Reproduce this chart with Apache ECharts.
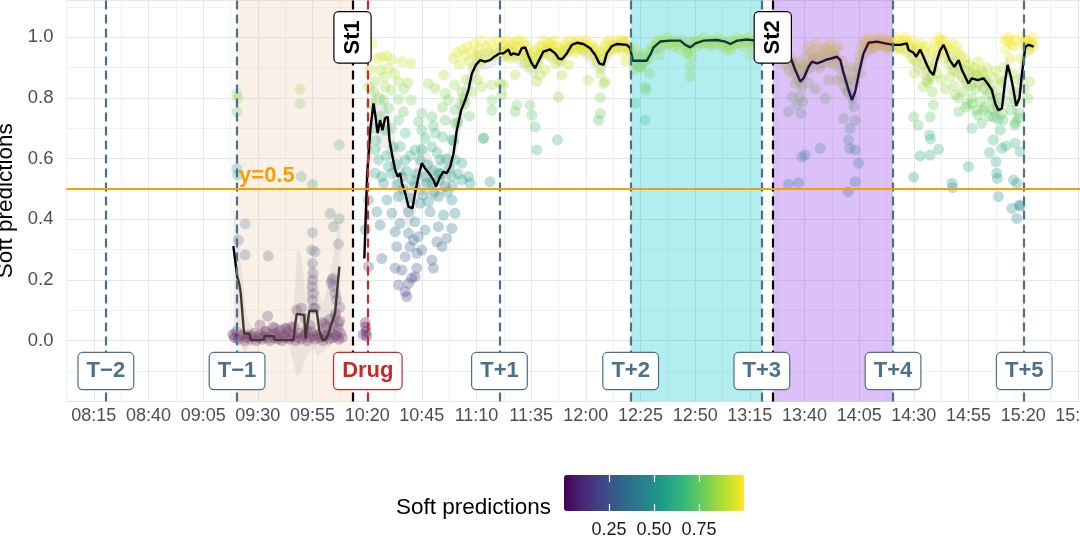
<!DOCTYPE html>
<html>
<head>
<meta charset="utf-8">
<script src="https://cdn.jsdelivr.net/npm/echarts@6/dist/echarts.min.js"></script>
<style>
html, body { margin: 0; padding: 0; background: #fff; }
#chart { width: 1080px; height: 540px; }
</style>
</head>
<body>
<div id="chart"></div>
<script>
// x values are minutes after 08:15
var startMin = 8 * 60 + 15;

var eventNames = ['T−2', 'T−1', 'T+1', 'T+2', 'T+3', 'T+4', 'T+5'];
var eventTimes = [5.5, 65.5, 185.5, 245.5, 305.5, 365.5, 425.5];
var drugName = 'Drug';
var drugTime = 125.3;
var stageNames = ['St1', 'St2'];
var stageTimes = [118.3, 310.5];
var threshold = 0.5;

// shaded periods: T-1..St1, T+2..T+3, St2..T+4
var shadeFrom = [65.5, 245.5, 310.5];
var shadeTo = [118.3, 305.5, 365.5];

var colorbarTicks = [0.25, 0.5, 0.75];

// soft predictions, [minute, value]
var ptsBaseline = [
  [65.4,0.815],[65.8,0.799],[65.4,0.755],[94.3,0.829],[94.3,0.782],[112.2,0.645],[65.4,0.568],[65.8,0.546],
  [94.8,0.541],[100.0,0.515],[69.2,0.385],[66.1,0.332],[69.2,0.283],[79.8,0.279],[108.1,0.420],[112.2,0.402],
  [109.6,0.376],[100.0,0.356],[111.9,0.319],[101.2,0.293],[100.0,0.255],[100.3,0.222],[100.1,0.200],[99.8,0.178],
  [100.2,0.156],[100.0,0.134],[100.4,0.107],[108.9,0.200],[109.6,0.178],[110.3,0.156],[76.0,0.052],[79.5,0.081],
  [92.8,0.101],[94.8,0.107],[101.2,0.107],[110.3,0.079],[111.9,0.057],[82.9,0.041],[87.5,0.041],[90.5,0.046],
  [96.6,0.074],[105.8,0.057],[99.7,0.299],[109.3,0.206],[108.5,0.19],[111.0,0.135],[112.5,0.11],
  [104.5,0.06],[106.2,0.045],[107.8,0.07],[109.5,0.05],[110.6,0.09],[111.8,0.04],[112.5,0.065],[98.9,0.05],
  [97.3,0.035],[91.7,0.045],[88.0,0.04],[85.3,0.035],[82.0,0.045],[78.3,0.03],
  [63.6,0.02],[64.4,0.01],[65.2,0.03],[66.1,0.005],[67.0,0.015],[67.9,0.02],[68.8,0.0],[69.7,0.01],
  [70.6,0.02],[71.5,0.005],[72.4,0.015],[73.3,0.025],[74.2,0.0],[75.1,0.01],[76.0,0.02],[76.9,0.005],
  [77.8,0.015],[78.7,0.03],[79.6,0.01],[80.5,0.0],[81.4,0.02],[82.3,0.01],[83.2,0.025],[84.1,0.005],
  [85.0,0.015],[85.9,0.0],[86.8,0.02],[87.7,0.01],[88.6,0.03],[89.5,0.005],[90.4,0.015],[91.3,0.02],
  [92.2,0.0],[93.1,0.01],[94.0,0.025],[94.9,0.005],[95.8,0.015],[96.7,0.02],[97.6,0.0],[98.5,0.01],
  [99.4,0.03],[100.3,0.015],[101.2,0.005],[102.1,0.02],[103.0,0.01],[103.9,0.025],[104.8,0.0],[105.7,0.015],
  [106.6,0.02],[107.5,0.005],[108.4,0.03],[109.3,0.01],[110.2,0.02],[111.1,0.015],[112.0,0.005],[112.9,0.025],
  [113.6,0.01]
];

var ptsDrug = [
  [123.2,0.02],[124.1,0.06],[124.5,0.03],[124.8,0.015],[124.3,0.045],
  [127.1,0.98],[129.4,0.931],[131.7,0.936],[134.0,0.938],[136.3,0.927],[140.9,0.92],[145.1,0.914],[126.4,0.892],
  [130.9,0.892],[134.7,0.898],[128.6,0.854],[139.3,0.854],[143.6,0.85],[125.6,0.837],[133.2,0.837],[135.9,0.826],
  [159.9,0.876],[153.0,0.848],[156.1,0.832],[160.7,0.815],[165.2,0.843],[168.3,0.821],[132.5,0.793],[139.3,0.796],
  [145.1,0.793],[162.2,0.793],[169.1,0.799],[134.7,0.766],[141.6,0.755],[150.0,0.749],[154.6,0.738],[159.5,0.769],
  [165.2,0.76],[169.8,0.782],[172.9,0.821],[177.4,0.837],[182.0,0.793],[182.0,0.76],[139.3,0.727],[148.4,0.722],
  [155.3,0.708],[160.7,0.727],[165.2,0.717],[133.2,0.694],[142.4,0.684],[150.0,0.694],[151.5,0.667],[156.1,0.684],
  [159.5,0.672],[163.7,0.662],[178.2,0.667],[128.6,0.629],[137.0,0.639],[146.9,0.629],[154.6,0.639],[130.2,0.596],
  [134.7,0.574],[142.4,0.596],[149.2,0.596],[158.4,0.596],[165.2,0.596],[168.3,0.585],
  [128.6,0.552],[131.7,0.541],[136.3,0.552],[140.9,0.541],[145.4,0.53],[151.5,0.541],[157.6,0.552],[163.7,0.541],
  [168.3,0.53],[171.3,0.541],[172.1,0.519],[181.2,0.524],[132.5,0.519],[138.5,0.513],[154.6,0.519],[160.7,0.508],
  [125.6,0.464],[134.0,0.464],[139.3,0.475],[149.2,0.453],[153.0,0.458],[157.6,0.475],[163.7,0.464],[129.4,0.425],
  [136.3,0.42],[143.9,0.425],[153.8,0.425],[159.9,0.414],[165.2,0.42],[130.9,0.381],[140.1,0.387],[146.9,0.392],
  [151.5,0.365],[157.6,0.376],[163.7,0.37],[137.8,0.359],[143.9,0.354],[146.1,0.332],[148.4,0.343],[138.5,0.31],
  [144.6,0.31],[150.0,0.299],[156.9,0.326],[159.2,0.31],[161.4,0.337],[131.7,0.271],[142.4,0.277],[147.7,0.288],
  [154.6,0.266],[140.9,0.233],[137.8,0.239],[147.7,0.239],[155.3,0.239],[145.4,0.206],[146.9,0.211],[139.3,0.184],
  [143.9,0.189],[142.4,0.162],[143.1,0.145],[125.6,0.244],[124.1,0.365],
  [127.5,0.70],[129.0,0.66],[131.0,0.74],[133.8,0.61],[136.0,0.70],[138.2,0.58],[140.2,0.64],[143.0,0.56],
  [144.8,0.61],[147.5,0.55],[149.8,0.63],[152.6,0.58],[155.0,0.56],[157.0,0.62],[159.0,0.55],[161.0,0.60],
  [162.8,0.57],[164.5,0.66],[166.5,0.72],[167.5,0.78],[170.2,0.86],[171.8,0.74],[173.5,0.90],[175.5,0.86],
  [176.5,0.92],[126.8,0.78],[128.2,0.82],[130.5,0.80],[132.8,0.87],[137.5,0.88],[141.8,0.83],
  [141.5,0.50],[144.5,0.47],[147.0,0.51],[150.5,0.48],[152.5,0.52],[155.5,0.49],[158.0,0.53],[161.8,0.49],
  [164.2,0.51],[166.6,0.55],
  [164.5,0.93],[166.0,0.95],[167.2,0.91],[168.4,0.96],[169.5,0.94],[170.6,0.97],[171.7,0.92],[172.8,0.95],
  [173.9,0.98],[175.0,0.94],[176.1,0.96],[177.2,0.99],[178.3,0.93],[179.4,0.97],[180.5,0.95],[181.6,0.98],
  [182.7,0.94],[183.8,0.96],[184.9,0.99],[186.0,0.95]
];

var ptsMidday = [
  [182.0,0.843],[186.6,0.81],[187.3,0.843],[192.7,0.876],[192.7,0.755],[193.5,0.777],[197.3,0.914],[199.5,0.777],
  [200.3,0.744],[201.8,0.705],[202.6,0.629],[202.6,0.854],[204.1,0.876],[206.4,0.892],[211.0,0.914],[212.5,0.804],
  [212.0,0.662],[214.0,0.876],[217.1,0.909],[226.2,0.859],[231.6,0.881],[233.1,0.848],[231.6,0.801],[231.6,0.749],
  [230.8,0.727],[233.9,0.854],[243.4,0.92],[178.2,0.667],[185.8,0.848],
  [186.9,0.97],[187.8,0.95],[188.7,0.99],[189.6,0.96],[190.5,0.93],[191.4,0.98],[192.3,0.95],[193.2,0.97],
  [194.1,0.94],[195.0,0.99],[195.9,0.96],[196.8,0.98],[197.7,0.95],[198.6,0.92],[199.5,0.94],[200.4,0.90],
  [201.3,0.93],[202.2,0.96],[203.1,0.91],[204.0,0.97],[204.9,0.95],[205.8,0.99],[206.7,0.96],[207.6,0.98],
  [208.5,0.94],[209.4,0.97],[210.3,0.99],[211.2,0.95],[212.1,0.93],[213.0,0.96],[213.9,0.92],[214.8,0.95],
  [215.7,0.98],[216.6,0.96],[217.5,0.99],[218.4,0.97],[219.3,0.98],[220.2,0.95],[221.1,0.99],[222.0,0.97],
  [222.9,0.98],[223.8,0.96],[224.7,0.99],[225.6,0.97],[226.5,0.95],[227.4,0.98],[228.3,0.96],[229.2,0.94],
  [230.1,0.92],[231.0,0.95],[231.9,0.91],[232.8,0.93],[233.7,0.97],[234.6,0.95],[235.5,0.99],[236.4,0.97],
  [237.3,0.98],[238.2,0.96],[239.1,0.99],[240.0,0.97],[240.9,0.98],[241.8,0.95],[242.7,0.99],[243.6,0.97],
  [244.5,0.96],
  [187.3,0.98],[189.1,0.94],[191.0,0.97],[193.7,0.99],[196.2,0.94],[198.0,0.97],[200.9,0.95],[203.6,0.94],
  [205.3,0.97],[207.1,0.95],[209.0,0.98],[211.7,0.97],[213.5,0.94],[215.2,0.97],[217.0,0.95],[219.8,0.97],
  [221.6,0.96],[223.3,0.98],[225.1,0.96],[227.9,0.97],[229.7,0.96],[232.3,0.95],[234.1,0.98],[236.9,0.96],
  [238.7,0.97],[241.3,0.99],[243.1,0.98],[245.0,0.97]
];

var ptsAfternoon = [
  [246.8,0.892],[247.6,0.782],[252.1,0.837],[252.6,0.826],[252.1,0.727],[254.2,0.881],[258.8,0.942],[271.8,0.947],
  [272.6,0.903],[273.4,0.936],[272.6,0.87],[265.7,0.973],[291.1,0.958],[300.2,0.942],[249.9,0.903],
  [246.0,0.95],[247.0,0.92],[248.0,0.96],[249.0,0.93],[250.0,0.90],[251.0,0.94],[252.0,0.92],[253.0,0.95],
  [254.0,0.93],[255.0,0.97],[256.0,0.96],[257.0,0.98],[258.0,0.99],[259.0,0.97],[260.0,0.99],[261.0,0.98],
  [262.0,1.0],[263.0,0.98],[264.0,0.99],[265.0,0.97],[266.0,0.99],[267.0,0.98],[268.0,0.96],[269.0,0.99],
  [270.0,0.97],[271.0,0.95],[272.0,0.97],[273.0,0.96],[274.0,0.98],[275.0,0.99],[276.0,0.97],[277.0,0.99],
  [278.0,0.98],[279.0,1.0],[280.0,0.98],[281.0,0.99],[282.0,0.97],[283.0,0.99],[284.0,0.98],[285.0,1.0],
  [286.0,0.98],[287.0,0.99],[288.0,0.97],[289.0,0.96],[290.0,0.98],[291.0,0.97],[292.0,0.99],[293.0,0.98],
  [294.0,1.0],[295.0,0.98],[296.0,0.99],[297.0,0.97],[298.0,0.99],[299.0,1.0],[300.0,0.98],[301.0,0.97],
  [302.0,0.99],[303.0,0.98],[304.0,0.99],[305.0,0.97],[306.0,0.98],[307.0,0.99],[308.0,0.97],[309.0,0.99],
  [310.0,0.96]
];

var ptsStage2 = [
  [320.8,0.848],[323.8,0.837],[319.6,0.804],[322.7,0.804],[324.2,0.788],[317.7,0.755],[321.5,0.777],[323.4,0.749],
  [334.5,0.799],[332.2,0.634],[323.8,0.606],[325.3,0.612],[317.7,0.516],[322.3,0.521],[339.9,0.859],[344.4,0.821],
  [342.9,0.733],[347.5,0.771],[348.2,0.727],[345.9,0.7],[345.2,0.662],[345.7,0.634],[348.2,0.629],[349.7,0.585],
  [348.2,0.524],[345.0,0.491],[350.6,0.881],[327.0,0.85],[330.0,0.83],[336.0,0.86],
  [311.0,0.97],[312.0,0.95],[313.0,0.98],[314.0,0.93],[315.0,0.96],[316.0,0.91],[317.0,0.94],[318.0,0.89],
  [319.0,0.92],[320.0,0.88],[321.0,0.90],[322.0,0.86],[323.0,0.89],[324.0,0.87],[325.0,0.91],[326.0,0.94],
  [327.0,0.90],[328.0,0.95],[329.0,0.92],[330.0,0.96],[331.0,0.93],[332.0,0.90],[333.0,0.95],[334.0,0.92],
  [335.0,0.97],[336.0,0.93],[337.0,0.95],[338.0,0.91],[339.0,0.96],[340.0,0.93],[341.0,0.90],[342.0,0.87],
  [343.0,0.84],[344.0,0.89],[345.0,0.82],[346.0,0.86],[347.0,0.80],[348.0,0.85],[349.0,0.90],[350.0,0.94],
  [351.0,0.97],[352.0,0.95],[353.0,0.99],[354.0,0.97],[355.0,0.98],[356.0,0.96],[357.0,0.99],[358.0,0.97],
  [359.0,0.98],[360.0,1.0],[361.0,0.97],[362.0,0.99],[363.0,0.96],[364.0,0.98],[365.0,0.97],
  [312.5,0.99],[314.5,0.97],[316.5,0.95],[318.5,0.93],[320.5,0.91],[322.5,0.92],[324.5,0.90],[326.5,0.97],
  [328.5,0.93],[330.5,0.98],[332.5,0.94],[334.5,0.96],[336.5,0.98],[338.5,0.94],[340.5,0.97],[342.5,0.92],
  [344.5,0.86],[346.5,0.90],[348.5,0.88],[350.5,0.92],[352.5,0.98],[354.5,1.0],[356.5,0.97],[358.5,0.99],
  [360.5,0.98],[362.5,0.97],[364.5,0.99]
];

var ptsLate = [
  [374.9,0.738],[382.5,0.738],[384.0,0.777],[382.2,0.678],[382.6,0.665],[386.3,0.631],[382.5,0.612],[377.9,0.609],
  [374.9,0.539],[392.5,0.519],[392.7,0.505],[400.0,0.574],[395.5,0.755],[401.6,0.7],[404.2,0.744],[406.9,0.76],
  [406.1,0.717],[409.6,0.62],[411.4,0.662],[412.6,0.59],[412.9,0.552],[413.2,0.535],[413.7,0.475],[414.5,0.694],
  [415.3,0.634],[417.2,0.642],[421.3,0.651],[421.3,0.711],[422.8,0.733],[423.6,0.623],[420.6,0.53],[422.1,0.519],
  [419.9,0.436],[423.6,0.444],[422.1,0.403],[423.3,0.447],[427.9,0.854],[427.1,0.799],[411.4,0.738],[415.8,0.727],
  [379.4,0.837],[381.0,0.859],[375.3,0.881],[393.9,0.81],[401.6,0.782],[377.0,0.71],[398.8,0.77],
  [366,0.98],[367,0.96],[368,0.99],[369,0.97],[370,0.98],[371,1.0],[372,0.95],[373,0.97],
  [374,0.93],[375,0.96],[376,0.92],[377,0.97],[378,0.94],[379,0.91],[380,0.95],[381,0.89],
  [382,0.92],[383,0.87],[384,0.90],[385,0.94],[386,0.97],[387,0.99],[388,0.96],[389,0.93],
  [390,0.97],[391,0.91],[392,0.94],[393,0.89],[394,0.92],[395,0.95],[396,0.90],[397,0.87],
  [398,0.91],[399,0.85],[400,0.88],[401,0.84],[402,0.87],[403,0.83],[404,0.88],[405,0.85],
  [406,0.89],[407,0.83],[408,0.86],[409,0.81],[410,0.84],[411,0.79],[412,0.82],[413,0.77],
  [414,0.80],[415,0.85],[416,0.90],[417,0.96],[418,0.99],[419,0.93],[420,0.88],[421,0.82],
  [422,0.79],[423,0.86],[424,0.93],[425,0.98],[426,0.97],[427,0.99],[428,0.96],[429,0.98],[430,0.97],
  [366.5,1.0],[368.5,0.97],[370.5,0.99],[372.5,0.98],[374.5,0.99],[376.5,0.96],[378.5,0.98],[380.5,0.97],
  [382.5,0.95],[384.5,0.98],[386.5,1.0],[388.5,0.99],[390.5,0.96],[392.5,0.98],[394.5,0.97],[396.5,0.94],
  [398.5,0.93],[400.5,0.91],[402.5,0.90],[404.5,0.92],[406.5,0.88],[408.5,0.90],[410.5,0.87],[412.5,0.89],
  [414.5,0.86],[416.5,0.99],[418.5,1.0],[419.5,0.98],[420.5,0.97],[421.5,0.99],[424.5,1.0],[426.5,0.99],
  [428.5,0.98],[429.5,1.0],
  [381.5,0.85],[383.5,0.82],[385.5,0.88],[387.5,0.86],[389.5,0.83],[391.5,0.87],[393.5,0.84],[395.5,0.80],
  [397.5,0.82],[399.5,0.78],[401.5,0.80],[403.5,0.76],[405.5,0.79],[407.5,0.77],[409.5,0.74],[411.5,0.76],
  [413.5,0.73],[415.5,0.75],[417.5,0.79],[419.5,0.76],[421.5,0.72],[423.5,0.75],[425.5,0.83]
];

// smoothed prediction (black line), before and after the drug
var smoothPre = [
  [63.8,0.312],[65.6,0.211],[66.6,0.184],[67.2,0.156],[68.7,0.024],[71.1,0.024],[71.8,0.002],[77.5,0.002],
  [78.3,0.015],[82.1,0.015],[82.9,0.002],[91.3,0.002],[92.0,0.05],[92.8,0.088],[96.2,0.085],[96.8,0.008],
  [97.6,0.008],[98.6,0.099],[101.9,0.099],[103.2,0.030],[104.7,0.0],[106.0,0.004],[107.3,0.024],[108.8,0.057],
  [110.3,0.09],[110.8,0.129],[112.3,0.244]
];
var smoothPost = [
  [123.7,0.271],[125.0,0.55],[126.5,0.70],[127.9,0.782],[128.6,0.749],[129.8,0.684],[130.9,0.727],[132.0,0.694],
  [133.2,0.733],[134.4,0.738],[135.2,0.662],[136.3,0.618],[137.8,0.563],[139.0,0.541],[140.1,0.552],[140.9,0.519],
  [142.4,0.486],[143.9,0.442],[145.7,0.436],[146.9,0.486],[148.8,0.552],[150.0,0.585],[151.5,0.568],[153.3,0.552],
  [155.3,0.530],[156.5,0.508],[158.4,0.541],[159.9,0.557],[161.4,0.552],[163.0,0.574],[164.5,0.618],[166.0,0.694],
  [168.0,0.760],[169.8,0.793],[171.3,0.826],[172.9,0.881],[174.7,0.909],[176.7,0.925],[178.9,0.920],[181.2,0.925],
  [183.5,0.938],[185.4,0.947],[187.3,0.947],[189.6,0.960],[190.7,0.942],[191.9,0.947],[194.2,0.942],[195.7,0.964],
  [197.3,0.967],[198.8,0.938],[200.3,0.914],[201.8,0.898],[203.3,0.920],[205.6,0.953],[208.7,0.960],[211.0,0.947],
  [212.5,0.931],[214.0,0.927],[216.3,0.947],[218.6,0.975],[220.9,0.982],[223.9,0.978],[227.0,0.964],[229.3,0.942],
  [231.2,0.914],[233.1,0.909],[234.6,0.947],[236.9,0.971],[239.2,0.978],[243.8,0.975],[245.3,0.964],[246.5,0.923],
  [252.9,0.923],[254.8,0.947],[256.0,0.967],[259.0,0.986],[263.6,0.989],[268.2,0.989],[270.5,0.975],[272.8,0.967],
  [275.1,0.980],[278.9,0.989],[285.0,0.991],[288.8,0.986],[291.1,0.978],[294.2,0.989],[298.8,0.993],[302.6,0.989],
  [306.0,0.99],[310.0,0.985],[313.0,0.975],[316.0,0.955],[318.5,0.936],[320.8,0.892],[323.1,0.854],[324.6,0.865],
  [326.9,0.903],[328.4,0.920],[330.7,0.914],[333.0,0.920],[335.3,0.927],[337.6,0.931],[339.9,0.936],[341.4,0.925],
  [342.9,0.881],[345.2,0.826],[346.7,0.793],[348.2,0.821],[350.2,0.892],[352.0,0.947],[354.3,0.982],[358.1,0.986],
  [361.9,0.980],[365.7,0.975],[368.8,0.975],[371.8,0.980],[372.6,0.958],[374.9,0.949],[376.1,0.936],[377.9,0.960],
  [379.4,0.936],[381.0,0.909],[382.5,0.887],[384.0,0.876],[385.6,0.925],[387.1,0.958],[388.6,0.975],[389.9,0.953],
  [391.4,0.925],[393.5,0.903],[395.5,0.925],[397.0,0.892],[398.5,0.870],[400.0,0.848],[401.6,0.865],[404.2,0.859],
  [406.9,0.865],[409.2,0.843],[410.7,0.826],[412.2,0.782],[413.7,0.760],[415.3,0.766],[416.8,0.859],[417.9,0.909],
  [419.4,0.870],[420.6,0.826],[421.8,0.774],[423.3,0.799],[424.4,0.876],[426.0,0.969],[427.5,0.975],[429.8,0.969]
];

// uncertainty band around the smooth: [minute, lower, upper]
var bandPre = [
  [63.8,0.02,0.44],[65.2,0.06,0.40],[66.6,0.05,0.30],[68.0,-0.03,0.22],[69.4,-0.04,0.10],[71.0,-0.02,0.06],
  [74.0,-0.01,0.03],[77.0,-0.01,0.03],[80.0,-0.01,0.05],[83.0,-0.01,0.04],[86.0,-0.01,0.03],[89.0,-0.01,0.04],
  [91.5,-0.08,0.12],[93.0,-0.12,0.30],[95.0,-0.10,0.28],[96.8,-0.06,0.14],[98.4,-0.04,0.27],[100.5,-0.03,0.26],
  [102.4,-0.05,0.20],[104.3,-0.04,0.12],[106.0,-0.03,0.15],[108.0,-0.02,0.22],[110.0,0.0,0.30],[112.3,0.10,0.40]
];
var bandPost = [
  [123.7,0.20,0.35],[125.5,0.45,0.70],[127.9,0.70,0.86],[130.0,0.62,0.78],[133.0,0.64,0.80],[135.5,0.58,0.74],
  [138.0,0.48,0.64],[141.0,0.44,0.60],[144.0,0.36,0.52],[146.5,0.40,0.56],[149.0,0.48,0.66],[152.0,0.48,0.64],
  [156.0,0.46,0.58],[159.0,0.48,0.60],[162.0,0.50,0.62],[165.0,0.58,0.70],[168.0,0.70,0.82],[171.0,0.78,0.88],
  [174.0,0.86,0.94],[177.0,0.89,0.96],[182.0,0.90,0.96],[190.0,0.93,0.98],[200.0,0.87,0.94],[202.0,0.86,0.93],
  [206.0,0.93,0.98],[213.0,0.90,0.96],[220.0,0.96,1.0],[231.0,0.88,0.94],[233.0,0.88,0.95],[238.0,0.95,0.99],
  [244.0,0.95,1.0],[247.0,0.89,0.95],[252.0,0.89,0.95],[256.0,0.94,0.99],[265.0,0.97,1.0],[290.0,0.96,1.0],
  [302.0,0.97,1.0],[310.0,0.95,0.99],[318.0,0.90,0.96],[323.0,0.82,0.88],[327.0,0.88,0.94],[335.0,0.90,0.95],
  [340.0,0.91,0.96],[346.7,0.75,0.84],[352.0,0.92,0.98],[358.0,0.96,1.0],[366.0,0.95,0.99],[372.0,0.94,0.99],
  [376.0,0.88,0.97],[383.0,0.84,0.92],[388.0,0.94,1.0],[392.0,0.88,0.95],[398.0,0.84,0.91],[404.0,0.83,0.89],
  [410.0,0.79,0.86],[413.7,0.72,0.80],[417.5,0.82,0.94],[421.8,0.72,0.84],[425.0,0.92,0.99],[429.8,0.95,0.99]
];

var viridis = ['#440154','#482878','#3E4A89','#31688E','#26828E','#1F9E89','#35B779','#6DCD59','#B4DE2C','#FDE725'];
var blueGrey = '#4A708B';
var drugRed = '#CD2626';
var orange = '#F5A100';
var font = '"Liberation Sans", Arial, sans-serif';

function clock(t) {
  var m = Math.round(startMin + t);
  var h = Math.floor(m / 60), mm = m % 60;
  return (h < 10 ? '0' : '') + h + ':' + (mm < 10 ? '0' : '') + mm;
}

var points = ptsBaseline.concat(ptsDrug, ptsMidday, ptsAfternoon, ptsStage2, ptsLate);
var bands = [bandPre, bandPost];

var vlines = [];
for (var i = 0; i < eventTimes.length; i++) {
  vlines.push({ xAxis: eventTimes[i], lineStyle: { color: blueGrey } });
}
for (var i = 0; i < stageTimes.length; i++) {
  vlines.push({ xAxis: stageTimes[i], lineStyle: { color: '#000' } });
}
vlines.push({ xAxis: drugTime, lineStyle: { color: drugRed } });
vlines.push({ yAxis: threshold, lineStyle: { color: orange, type: 'solid', width: 2 } });

var shadeColors = ['rgba(235,200,170,0.28)', 'rgba(0,200,205,0.3)', 'rgba(138,45,232,0.3)'];
var areas = [];
for (var i = 0; i < shadeFrom.length; i++) {
  areas.push([{ xAxis: shadeFrom[i], itemStyle: { color: shadeColors[i] } }, { xAxis: shadeTo[i] }]);
}

function boxLabel(color, rotate) {
  return {
    show: true, position: 'inside', formatter: '{b}', rotate: rotate || 0,
    color: color, fontSize: 22, fontWeight: 'bold', fontFamily: font, lineHeight: 22,
    backgroundColor: '#fff', borderColor: color, borderWidth: 1.2, borderRadius: 4,
    padding: [7, 8]
  };
}
var labelItems = [];
for (var i = 0; i < eventTimes.length; i++) {
  labelItems.push({ name: eventNames[i], value: [eventTimes[i], -0.1], label: boxLabel(blueGrey) });
}
labelItems.push({ name: drugName, value: [drugTime, -0.1], label: boxLabel(drugRed) });
for (var i = 0; i < stageTimes.length; i++) {
  labelItems.push({ name: stageNames[i], value: [stageTimes[i], 1.0], label: boxLabel('#000', 90) });
}
labelItems.push({
  name: 'y=0.5', value: [eventTimes[1], threshold],
  label: { show: true, formatter: '{b}', position: [2, -2], align: 'left', verticalAlign: 'bottom',
           color: orange, fontSize: 22, fontWeight: 'bold', fontFamily: font }
});

var chart = echarts.init(document.getElementById('chart'));
var option = {
  animation: false,
  textStyle: { fontFamily: font },
  grid: [
    { left: 66.5, right: 0, top: 0, bottom: 138.6, outerBoundsMode: 'none' },
    { left: 564, width: 180, top: 475, height: 36, outerBoundsMode: 'none' }
  ],
  xAxis: [
    {
      type: 'value', min: -12.5, max: 451, interval: 12.5,
      axisLine: { show: false }, axisTick: { show: false },
      splitLine: { show: true, lineStyle: { color: ['#F1F1F1', '#E6E6E6'], width: 1 } },
      axisLabel: {
        color: '#4D4D4D', fontSize: 18, margin: 6,
        formatter: function (v) {
          var k = v / 25;
          return Math.abs(k - Math.round(k)) < 1e-6 ? clock(v) : '';
        }
      }
    },
    {
      gridIndex: 1, type: 'value', min: 0, max: 1, position: 'bottom', z: 10,
      axisLine: { show: false }, splitLine: { show: false },
      axisTick: { show: true, inside: true, length: 7, customValues: colorbarTicks, lineStyle: { color: '#fff', width: 1.2 } },
      axisLabel: { customValues: colorbarTicks, color: '#1A1A1A', fontSize: 18, margin: 10,
                   formatter: function (v) { return v.toFixed(2); } }
    },
    {
      gridIndex: 1, type: 'value', min: 0, max: 1, position: 'top', z: 10,
      axisLine: { show: false }, splitLine: { show: false }, axisLabel: { show: false },
      axisTick: { show: true, inside: true, length: 7, customValues: colorbarTicks, lineStyle: { color: '#fff', width: 1.2 } }
    }
  ],
  yAxis: [
    {
      type: 'value', min: -0.2, max: 1.123, interval: 0.1,
      name: 'Soft predictions', nameLocation: 'middle', nameGap: 32,
      nameTextStyle: { color: '#000', fontSize: 22.5 },
      axisLine: { show: false }, axisTick: { show: false },
      splitLine: { show: true, lineStyle: { color: ['#E6E6E6', '#F1F1F1'], width: 1 } },
      axisLabel: {
        color: '#4D4D4D', fontSize: 18.5, margin: 13,
        formatter: function (v) {
          var k = v * 5;
          if (v < -1e-6 || v > 1.0001 || Math.abs(k - Math.round(k)) > 1e-6) return '';
          return v.toFixed(1);
        }
      }
    },
    { gridIndex: 1, type: 'value', show: false }
  ],
  visualMap: [{
    type: 'continuous', min: 0, max: 1, dimension: 1, seriesIndex: 1,
    orient: 'horizontal', left: 564, top: 475, padding: 0,
    itemWidth: 36, itemHeight: 180, calculable: false, hoverLink: false,
    inRange: { color: viridis }
  }],
  graphic: [{
    type: 'text', x: 396, y: 508,
    style: { text: 'Soft predictions', fill: '#000', fontSize: 22.5, fontFamily: font, align: 'left', verticalAlign: 'middle' }
  }],
  series: [
    {
      type: 'custom', z: 1, silent: true,
      data: [[0, 0], [0, 0]],
      renderItem: function (params, api) {
        var seg = bands[params.dataIndex];
        var pts = [];
        for (var i = 0; i < seg.length; i++) pts.push(api.coord([seg[i][0], seg[i][2]]));
        for (var i = seg.length - 1; i >= 0; i--) pts.push(api.coord([seg[i][0], seg[i][1]]));
        return { type: 'polygon', shape: { points: pts }, style: { fill: 'rgba(150,150,150,0.18)' } };
      }
    },
    {
      type: 'scatter', z: 2, silent: true, symbolSize: 11,
      itemStyle: { opacity: 0.3 },
      data: points
    },
    {
      type: 'line', z: 3, silent: true, showSymbol: false, symbol: 'none',
      lineStyle: { color: '#000', width: 2.4 }, data: smoothPre
    },
    {
      type: 'line', z: 3, silent: true, showSymbol: false, symbol: 'none',
      lineStyle: { color: '#000', width: 2.4 }, data: smoothPost,
      markArea: { z: 4, silent: true, data: areas },
      markLine: {
        z: 5, silent: true, symbol: ['none', 'none'], label: { show: false },
        lineStyle: { type: [9, 5], width: 2.2 }, data: vlines
      }
    },
    {
      type: 'scatter', z: 6, silent: true, symbolSize: 0,
      itemStyle: { opacity: 1 },
      data: labelItems
    }
  ]
};
chart.setOption(option);
</script>
</body>
</html>
